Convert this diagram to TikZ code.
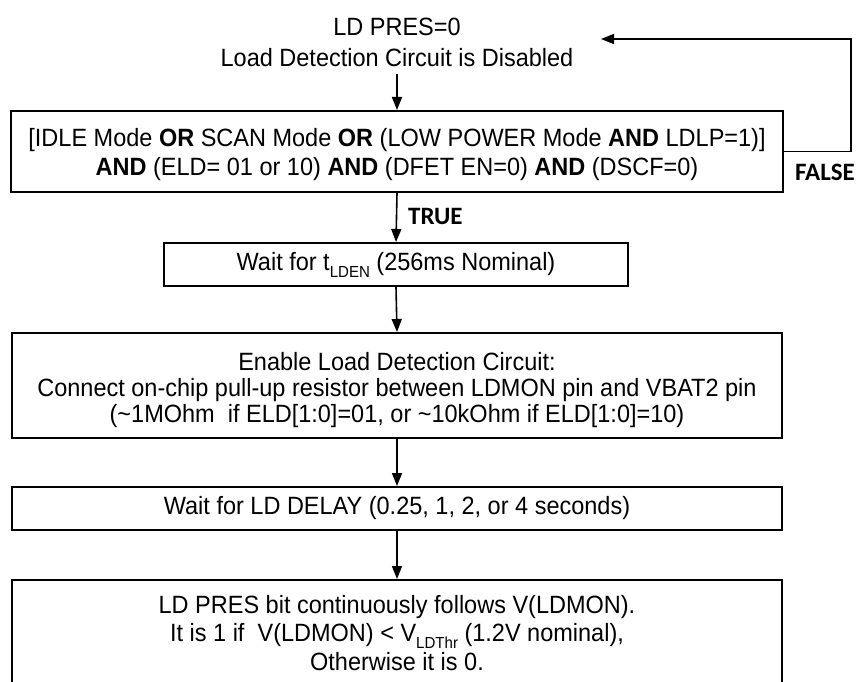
\documentclass[tikz,border=0pt]{standalone}
\usepackage{fontspec}
\setmainfont{Liberation Sans}[FakeStretch=0.94]
\newfontfamily\lblfont{Carlito}
\usetikzlibrary{arrows.meta}
\newcommand{\lowsub}[1]{\raisebox{-0.25em}[0pt][0pt]{\fontsize{16}{16}\selectfont #1}}
\begin{document}
\begin{tikzpicture}[x=1pt,y=-1pt,
  every node/.style={font=\fontsize{25}{27.5}\selectfont, align=center, inner sep=0pt},
  box/.style={draw, line width=2pt, minimum width=#1},
  flow/.style={line width=1.6pt, -{Triangle[length=13pt,width=10pt]}},
  lbl/.style={font=\lblfont\bfseries\fontsize{25}{27}\selectfont}]
\useasboundingbox (0,0) rectangle (857,682);
\clip (0,0) rectangle (857,682);

\node[font=\fontsize{25}{30.5}\selectfont] (top) at (397,42.5) {LD PRES=0\\Load Detection Circuit is Disabled};
\node[box=772pt, minimum height=81pt] (b1) at (397,151.5) {};
\node[font=\fontsize{25}{29}\selectfont] (b1t) at (397,154.5)
  {[IDLE Mode \textbf{OR} SCAN Mode \textbf{OR} (LOW POWER Mode \textbf{AND} LDLP=1)]\\
   \textbf{AND} (ELD= 01 or 10) \textbf{AND} (DFET EN=0) \textbf{AND} (DSCF=0)};
\node[box=464pt, minimum height=43pt] (b2) at (396,264.5)
  {Wait for t\lowsub{LDEN} (256ms Nominal)};
\node[box=770pt, minimum height=105pt] (b3) at (397,385.5) {};
\node[font=\fontsize{25}{26}\selectfont] (b3t) at (397,390)
  {Enable Load Detection Circuit:\\
   Connect on-chip pull-up resistor between LDMON pin and VBAT2 pin\\
   (\textasciitilde1MOhm\ \ if ELD[1:0]=01, or \textasciitilde10kOhm if ELD[1:0]=10)};
\node[box=770pt, minimum height=43pt] (b4) at (397,508.5)
  {Wait for LD DELAY (0.25, 1, 2, or 4 seconds)};
\node[box=770pt, minimum height=106pt] (b5) at (397,633) {};
\node[font=\fontsize{25}{28.5}\selectfont] (b5t) at (397,633)
  {LD PRES bit continuously follows V(LDMON).\\
   It is 1 if\ \ V(LDMON) < V\lowsub{LDThr} (1.2V nominal),\\
   Otherwise it is 0.};

\node[lbl, anchor=west] (true) at (408,216) {TRUE};
\node[lbl] (false) at (825,172) {FALSE};

\coordinate (fbc) at (851,151.5);
\coordinate (fbtip) at (601,39);

\draw[flow] (397,74) -- (b1.north);
\draw[flow] (b1.south) -- (b2.north);
\draw[flow] (b2.south) -- (b3.north);
\draw[flow] (b3.south) -- (b4.north);
\draw[flow] (b4.south) -- (b5.north);
\draw[flow] (b1.east) -- (fbc) |- (fbtip);
\end{tikzpicture}
\end{document}
